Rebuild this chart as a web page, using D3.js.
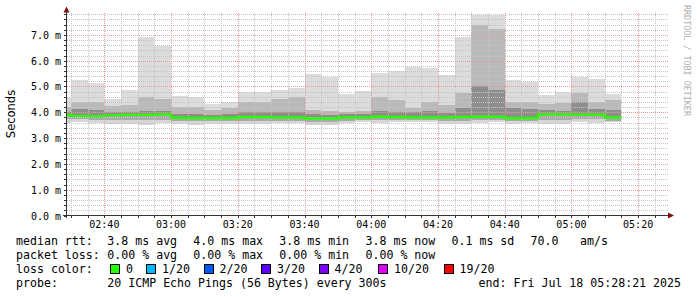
<!DOCTYPE html>
<html>
<head>
<meta charset="utf-8">
<script src="https://cdn.jsdelivr.net/npm/d3@7"></script>
<style>
  html, body { margin: 0; padding: 0; background: #fff; }
  svg { display: block; }
  text { font-family: "DejaVu Sans Mono", monospace; fill: #000; }
</style>
</head>
<body>
<div id="chart"></div>
<script>
// 5-minute steps (end time of each step), rtt values in ms
const stepEnds = ['02:30', '02:35', '02:40', '02:45', '02:50', '02:55', '03:00', '03:05', '03:10', '03:15',
  '03:20', '03:25', '03:30', '03:35', '03:40', '03:45', '03:50', '03:55', '04:00', '04:05',
  '04:10', '04:15', '04:20', '04:25', '04:30', '04:35', '04:40', '04:45', '04:50', '04:55',
  '05:00', '05:05', '05:10', '05:15'];
const rttMax = [4.55, 5.25, 5.15, 4.52, 4.87, 6.90, 6.58, 4.62, 4.58, 4.32,
  4.41, 4.78, 4.78, 4.87, 4.94, 5.49, 5.38, 4.71, 4.82, 5.54,
  5.59, 5.77, 5.72, 5.45, 6.93, 7.77, 7.77, 5.25, 5.19, 4.67,
  4.80, 5.38, 5.29, 4.71];
const rttUpper = [4.22, 4.41, 4.41, 4.25, 4.28, 4.58, 4.52, 4.22, 4.19, 4.09,
  4.16, 4.41, 4.41, 4.52, 4.61, 4.09, 4.05, 4.03, 4.05, 4.61,
  4.48, 4.18, 4.41, 4.28, 4.76, 7.39, 7.22, 4.41, 4.41, 4.32,
  4.35, 4.74, 4.41, 4.48];
const rttMid = [4.03, 4.12, 4.10, 4.00, 4.02, 4.05, 4.05, 3.95, 3.92, 3.90,
  3.92, 4.00, 4.00, 4.03, 4.02, 3.92, 3.90, 3.92, 3.94, 4.05,
  4.03, 4.00, 4.05, 3.98, 4.16, 5.02, 4.87, 4.16, 4.12, 4.08,
  4.06, 4.41, 4.14, 4.09];
const rttMedian = [3.90, 3.86, 3.85, 3.88, 3.90, 3.90, 3.92, 3.79, 3.78, 3.78,
  3.78, 3.82, 3.82, 3.80, 3.80, 3.76, 3.76, 3.80, 3.80, 3.83,
  3.82, 3.80, 3.80, 3.80, 3.82, 3.83, 3.83, 3.77, 3.78, 3.92,
  3.92, 3.91, 3.91, 3.80];
const rttLower = [3.75, 3.74, 3.72, 3.70, 3.72, 3.70, 3.72, 3.65, 3.65, 3.66,
  3.66, 3.68, 3.68, 3.68, 3.68, 3.64, 3.64, 3.68, 3.70, 3.70,
  3.70, 3.70, 3.70, 3.66, 3.68, 3.70, 3.70, 3.65, 3.66, 3.72,
  3.72, 3.74, 3.74, 3.68];
const rttMin = [3.60, 3.64, 3.60, 3.55, 3.55, 3.51, 3.57, 3.55, 3.51, 3.55,
  3.55, 3.55, 3.55, 3.60, 3.60, 3.52, 3.52, 3.60, 3.64, 3.60,
  3.64, 3.64, 3.64, 3.55, 3.55, 3.60, 3.64, 3.55, 3.60, 3.55,
  3.55, 3.64, 3.60, 3.64];

const yTicks = [0, 1, 2, 3, 4, 5, 6, 7];
const xTickLabels = ['02:40', '03:00', '03:20', '03:40', '04:00', '04:20', '04:40', '05:00', '05:20'];
const lossLabels = ['0', '1/20', '2/20', '3/20', '4/20', '10/20', '19/20'];
const lossColors = ['#26ff00', '#00b8ff', '#0059ff', '#5e00ff', '#7e00ff', '#dd00ff', '#ff0000'];

const W = 697;
const H = 297;
const day = '2025-07-18T';
const parse = s => new Date(day + (s.length === 5 ? s + ':00' : s));
const tStart = parse('02:28:21');
const tEnd = parse('05:28:21');

const x = d3.scaleTime().domain([tStart, tEnd]).range([65.5, 666]);
const y = d3.scaleLinear().domain([0, 7.86]).range([215.5, 12.7]);
const px = v => Math.round(v) + 0.5;

const svg = d3.select('#chart').append('svg')
  .attr('width', W)
  .attr('height', H);

svg.append('rect').attr('width', W).attr('height', H).attr('fill', '#fff');

const plotL = 67;
const plotR = 669;
const plotT = 13;
const plotB = 215.5;

// Smoke
const cols = stepEnds.map((e, i) => {
  const end = parse(e);
  const start = new Date(Math.max(+end - 300000, +tStart));
  return { start, end, i };
});

const bands = [
  { lo: rttUpper, hi: rttMax, fill: '#dcdcdc' },
  { lo: rttMid, hi: rttUpper, fill: '#b9b9b9' },
  { lo: rttMedian, hi: rttMid, fill: '#8e8e8e' },
  { lo: rttLower, hi: rttMedian, fill: '#a9a9a9' },
  { lo: rttMin, hi: rttLower, fill: '#d6d6d6' }
];

const smoke = svg.append('g').attr('class', 'smoke').attr('shape-rendering', 'crispEdges');
bands.forEach(b => {
  smoke.append('g').selectAll('rect')
    .data(cols)
    .join('rect')
    .attr('x', d => Math.max(plotL, Math.round(x(d.start))))
    .attr('width', d => Math.round(x(d.end)) - Math.max(plotL, Math.round(x(d.start))))
    .attr('y', d => Math.round(y(b.hi[d.i])))
    .attr('height', d => Math.max(0, Math.round(y(b.lo[d.i])) - Math.round(y(b.hi[d.i]))))
    .attr('fill', b.fill);
});

// Grid
const grid = svg.append('g').attr('class', 'grid');
const minorY = d3.range(1, 40).map(k => k * 0.2).filter(v => Math.abs(v - Math.round(v)) > 1e-6);
grid.selectAll('.gy')
  .data(minorY)
  .join('line')
  .attr('x1', plotL).attr('x2', plotR)
  .attr('y1', d => px(y(d))).attr('y2', d => px(y(d)))
  .attr('stroke', '#c4c4c4')
  .attr('stroke-dasharray', '1,1');

const minorX = d3.timeMinute.every(5).range(parse('02:30'), parse('05:26'))
  .filter(t => t.getMinutes() % 20 !== 0);
grid.selectAll('.gx')
  .data(minorX)
  .join('line')
  .attr('x1', d => px(x(d))).attr('x2', d => px(x(d)))
  .attr('y1', plotT).attr('y2', plotB)
  .attr('stroke', '#c4c4c4')
  .attr('stroke-dasharray', '1,1');

grid.selectAll('.my')
  .data(yTicks.slice(1))
  .join('line')
  .attr('x1', plotL).attr('x2', plotR)
  .attr('y1', d => px(y(d))).attr('y2', d => px(y(d)))
  .attr('stroke', '#eb9a9a')
  .attr('stroke-dasharray', '1,1');

grid.selectAll('.mx')
  .data(xTickLabels)
  .join('line')
  .attr('x1', d => px(x(parse(d)))).attr('x2', d => px(x(parse(d))))
  .attr('y1', plotT).attr('y2', plotB)
  .attr('stroke', '#eb9a9a')
  .attr('stroke-dasharray', '1,1');

// Median line
const medPts = cols.map(d => [Math.max(plotL, x(d.start)), y(rttMedian[d.i])]);
medPts.push([x(cols[cols.length - 1].end), y(rttMedian[rttMedian.length - 1])]);
svg.append('path')
  .attr('d', d3.line().curve(d3.curveStepAfter)(medPts))
  .attr('fill', 'none')
  .attr('stroke', lossColors[0])
  .attr('stroke-width', 2.4);

// Axes
const axis = svg.append('g').attr('class', 'axes').attr('shape-rendering', 'crispEdges');
axis.append('line')
  .attr('x1', 66.5).attr('x2', 66.5).attr('y1', 218).attr('y2', 10)
  .attr('stroke', '#333');
axis.append('line')
  .attr('x1', 63).attr('x2', 668).attr('y1', plotB).attr('y2', plotB)
  .attr('stroke', '#333');

// tick marks
axis.selectAll('.ty')
  .data(minorY.concat(yTicks))
  .join('line')
  .attr('x1', 64).attr('x2', 66)
  .attr('y1', d => px(y(d))).attr('y2', d => px(y(d)))
  .attr('stroke', '#333');
axis.selectAll('.tx')
  .data(minorX.concat(xTickLabels.map(parse)))
  .join('line')
  .attr('x1', d => px(x(d))).attr('x2', d => px(x(d)))
  .attr('y1', 216).attr('y2', 218)
  .attr('stroke', '#333');

svg.append('path')
  .attr('d', 'M63.5,12.5 L66.5,6.5 L69.5,12.5 Z')
  .attr('fill', '#7f1010');
svg.append('path')
  .attr('d', 'M668,212.5 L674,215.5 L668,218.5 Z')
  .attr('fill', '#7f1010');

// Tick labels
svg.append('g').selectAll('text')
  .data(yTicks)
  .join('text')
  .attr('x', 61)
  .attr('y', d => px(y(d)) + 3.5)
  .attr('text-anchor', 'end')
  .style('font-size', '10px')
  .text(d => d.toFixed(1) + ' m');

svg.append('g').selectAll('text')
  .data(xTickLabels)
  .join('text')
  .attr('x', d => x(parse(d)))
  .attr('y', 228)
  .attr('text-anchor', 'middle')
  .style('font-size', '10px')
  .text(d => d);

svg.append('text')
  .attr('transform', 'translate(15,114) rotate(-90)')
  .attr('text-anchor', 'middle')
  .style('font-family', '"DejaVu Sans", sans-serif')
  .style('font-size', '11.5px')
  .text('Seconds');

svg.append('text')
  .attr('transform', 'translate(684,5) rotate(90)')
  .style('font-size', '8.4px')
  .style('fill', '#b0b0b0')
  .text('RRDTOOL / TOBI OETIKER');

// Legend
const fs = '11.6px';
const rows = [245, 259, 273, 287];
const colX = [16, 107.3, 193.3, 279.3, 365.5, 451.5, 530.5, 580];
const legendRows = [
  ['median rtt:', '3.8 ms avg', '4.0 ms max', '3.8 ms min', '3.8 ms now', '0.1 ms sd', '70.0', 'am/s'],
  ['packet loss:', '0.00 % avg', '0.00 % max', '0.00 % min', '0.00 % now']
];
legendRows.forEach((r, ri) => {
  svg.append('g').selectAll('text')
    .data(r)
    .join('text')
    .attr('x', (d, i) => colX[i])
    .attr('y', rows[ri])
    .style('font-size', fs)
    .attr('xml:space', 'preserve')
    .text(d => d);
});

svg.append('text').attr('x', 16).attr('y', rows[2]).style('font-size', fs).text('loss color:');
const boxX = [110, 146, 203.5, 261, 318.5, 378, 443.5];
const lg = svg.append('g').selectAll('g')
  .data(lossLabels)
  .join('g');
lg.append('rect')
  .attr('x', (d, i) => boxX[i] + 0.5)
  .attr('y', 264.5)
  .attr('width', 9)
  .attr('height', 9)
  .attr('fill', (d, i) => lossColors[i])
  .attr('stroke', '#000')
  .attr('shape-rendering', 'crispEdges');
lg.append('text')
  .attr('x', (d, i) => boxX[i] + 16)
  .attr('y', rows[2])
  .style('font-size', fs)
  .text(d => d);

svg.append('text').attr('x', 16).attr('y', rows[3]).style('font-size', fs).text('probe:');
svg.append('text').attr('x', 107.3).attr('y', rows[3]).style('font-size', fs)
  .text('20 ICMP Echo Pings (56 Bytes) every 300s');
svg.append('text').attr('x', 681).attr('y', rows[3]).attr('text-anchor', 'end').style('font-size', fs)
  .text('end: Fri Jul 18 05:28:21 2025');
</script>
</body>
</html>
